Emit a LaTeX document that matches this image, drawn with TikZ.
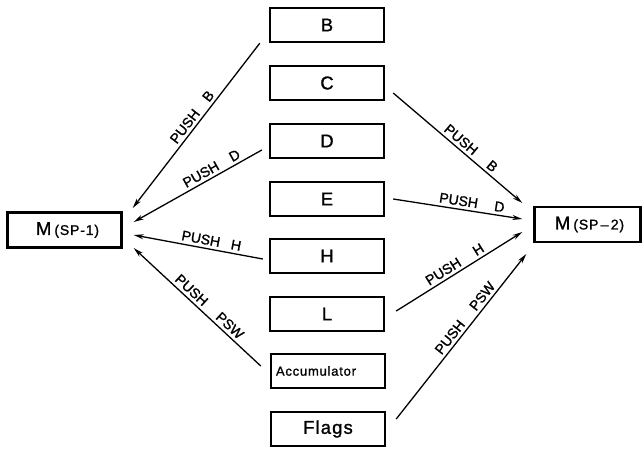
\documentclass[tikz,border=0pt]{standalone}
\usepackage{fontspec}
\setmainfont{Liberation Sans}[LetterSpace=6,FakeBold=1.2]
\newfontfamily\lblfont{Liberation Sans}[FakeBold=1.2]
\usetikzlibrary{arrows.meta,calc}
\begin{document}
\begin{tikzpicture}[x=1pt,y=-1pt,
  reg/.style={draw,line width=2.4pt,minimum width=114pt,minimum height=34pt,inner sep=0pt,font=\fontsize{18.5}{18}\selectfont},
  mem/.style={draw,line width=2.4pt,minimum height=35pt,inner sep=0pt,font=\fontsize{18.5}{18}\selectfont},
  conn/.style={line width=1.3pt,-{Stealth[length=10pt,width=5pt]}},
  lbl/.style={sloped,above,font=\lblfont\fontsize{14}{14}\selectfont,inner sep=3pt},
]
\useasboundingbox (0,0) rectangle (644,448);
% registers
\node[reg] (B) at (327,25) {B};
\node[reg] (C) at (327,83) {C};
\node[reg] (D) at (327,141) {D};
\node[reg] (E) at (327,199) {E};
\node[reg] (H) at (327,256) {H};
\node[reg] (L) at (327,314) {L};
\node[reg,font=\fontsize{13}{13}\selectfont] (A) at (328,371) {\hspace{-24pt}Accumulator};
\node[reg] (F) at (328,429) {Flags};
% memory
\node[mem,minimum width=114pt] (M1) at (64.5,230) {\hspace{6pt}M\,{\fontsize{14}{14}\selectfont(SP-1)}};
\node[mem,minimum width=106pt] (M2) at (587.5,224.5) {\hspace{4pt}M\,{\fontsize{14}{14}\selectfont(SP\,–\,2)}};
% left connectors
\draw[conn] ($(B.south west)+(-9,0)$) -- node[lbl,pos=0.48] {PUSH\hspace{1em}B} ($(M1.east)+(10,-22)$);
\draw[conn] ($(D.west)+(-7,9)$) -- node[lbl,pos=0.36] {PUSH\hspace{1em}D} ($(M1.east)+(11,-8)$);
\draw[conn] ($(H.west)+(-6,3)$) -- node[lbl,pos=0.41] {PUSH\hspace{0.8em}H} ($(M1.east)+(11,5)$);
\draw[conn] ($(A.west)+(-9,-5)$) -- node[lbl,pos=0.45] {PUSH\hspace{1.2em}PSW} ($(M1.east)+(11,18)$);
% right connectors
\draw[conn] ($(C.east)+(8,10)$) -- node[lbl,pos=0.56] {PUSH\hspace{1.2em}B} ($(M2.west)+(-11,-21.5)$);
\draw[conn] ($(E.east)+(8,0)$) -- node[lbl,pos=0.6] {PUSH\hspace{1.2em}D} ($(M2.west)+(-11,-5.5)$);
\draw[conn] ($(L.east)+(11,-3)$) -- node[lbl,pos=0.5] {PUSH\hspace{1.2em}H} ($(M2.west)+(-11,7.5)$);
\draw[conn] ($(F.east)+(10,-10)$) -- node[lbl,pos=0.58] {PUSH\hspace{1.2em}PSW} ($(M2.west)+(-7,29.5)$);
\end{tikzpicture}
\end{document}
